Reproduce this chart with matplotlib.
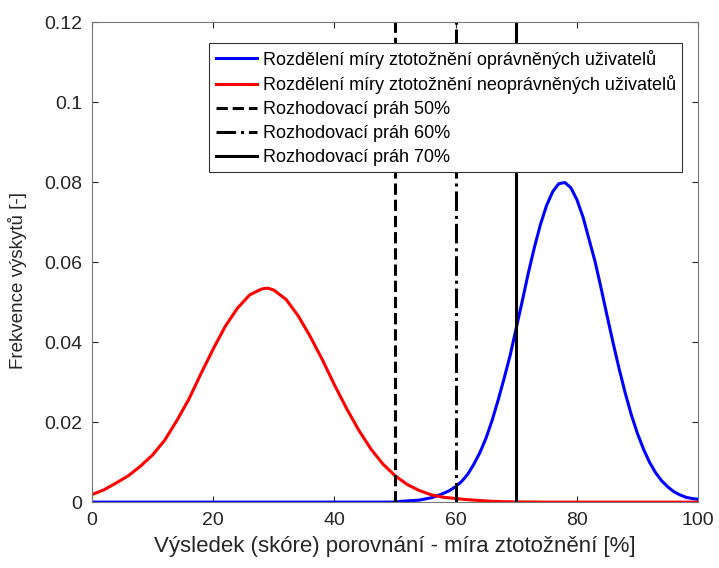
import numpy as np
import matplotlib
matplotlib.use("Agg")
import matplotlib.pyplot as plt
from matplotlib.ticker import FuncFormatter

# hodnoty
x_neopr = [0, 2, 4, 6, 8, 10, 12, 14, 16, 18, 20, 22, 24, 26, 28, 29, 30, 32, 34,
           36, 38, 40, 42, 44, 46, 48, 50, 52, 54, 56, 58, 60, 62, 64, 66, 68, 70,
           75, 100]
y_neopr = [0.0019, 0.0031, 0.0048, 0.0066, 0.0090, 0.0118, 0.0155, 0.0204, 0.0258,
           0.0322, 0.0383, 0.0440, 0.0485, 0.0518, 0.0533, 0.0535, 0.0530, 0.0507,
           0.0466, 0.0414, 0.0356, 0.0293, 0.0234, 0.0180, 0.0133, 0.0095, 0.0066,
           0.0044, 0.0029, 0.0018, 0.0012, 0.0009, 0.0006, 0.0004, 0.0002, 0.0001,
           0.00005, 0, 0]

x_opr = [0, 50, 51, 52, 53, 54, 55, 56, 57, 58, 59, 60, 61, 62, 63, 64, 65, 66, 67,
         68, 69, 70, 71, 72, 73, 74, 75, 76, 77, 78, 79, 80, 81, 82, 83, 84, 85, 86,
         87, 88, 89, 90, 91, 92, 93, 94, 95, 96, 97, 98, 99, 100]
y_opr = [0, 0, 0.0002, 0.0003, 0.0004, 0.0005, 0.0008, 0.0011, 0.0016, 0.0022,
         0.0029, 0.0039, 0.0052, 0.0070, 0.0095, 0.0124, 0.0160, 0.0204, 0.0255,
         0.0310, 0.0368, 0.0436, 0.0504, 0.0574, 0.0638, 0.0695, 0.0742, 0.0776,
         0.0796, 0.0799, 0.0786, 0.0756, 0.0713, 0.0657, 0.0601, 0.0534, 0.0464,
         0.0396, 0.0331, 0.0271, 0.0217, 0.0171, 0.0132, 0.0099, 0.0073, 0.0053,
         0.0038, 0.0026, 0.0018, 0.0012, 0.0009, 0.0007]

prahy = [50, 60, 70]
styly_prahu = ['--', '-.', '-']
popisky = ["Rozdělení míry ztotožnění oprávněných uživatelů",
           "Rozdělení míry ztotožnění neoprávněných uživatelů",
           "Rozhodovací práh 50%",
           "Rozhodovací práh 60%",
           "Rozhodovací práh 70%"]

plt.rcParams['font.family'] = ['Liberation Sans', 'DejaVu Sans']

fig = plt.figure(figsize=(7.19, 5.68), dpi=100)
ax = fig.add_axes([0.128, 0.116, 0.843, 0.845])

ax.plot(x_opr, y_opr, color='blue', lw=2.2, label=popisky[0])
ax.plot(x_neopr, y_neopr, color='red', lw=2.2, label=popisky[1])
for p, s, lab in zip(prahy, styly_prahu, popisky[2:]):
    ax.plot([p, p], [0, 0.12], color='black', ls=s, lw=2.2, label=lab)

ax.set_xlim(0, 100)
ax.set_ylim(0, 0.12)
ax.set_xticks([0, 20, 40, 60, 80, 100])
ax.set_yticks([0, 0.02, 0.04, 0.06, 0.08, 0.1, 0.12])
ax.yaxis.set_major_formatter(FuncFormatter(lambda v, pos: '%g' % round(v, 4)))

for sp in ax.spines.values():
    sp.set_color('#777777')
ax.tick_params(direction='in', top=True, right=True, length=4, width=0.8,
               colors='#262626', labelsize=14, pad=7)

ax.set_xlabel('Výsledek (skóre) porovnání - míra ztotožnění [%]', fontsize=16, color='#262626',
              labelpad=5)
ax.set_ylabel('Frekvence výskytů [-]', fontsize=13.5, color='#262626')
ax.yaxis.set_label_coords(-0.108, 0.4625)

leg = ax.legend(loc='upper right', bbox_to_anchor=(0.9736, 0.956), borderaxespad=0,
                fontsize=13, frameon=True, fancybox=False,
                edgecolor='#333333', handlelength=2.3, handletextpad=0.3,
                borderpad=0.35, labelspacing=0.38)
leg.get_frame().set_linewidth(0.8)
leg.get_frame().set_alpha(1)

fig.savefig('out.png', dpi=100)
